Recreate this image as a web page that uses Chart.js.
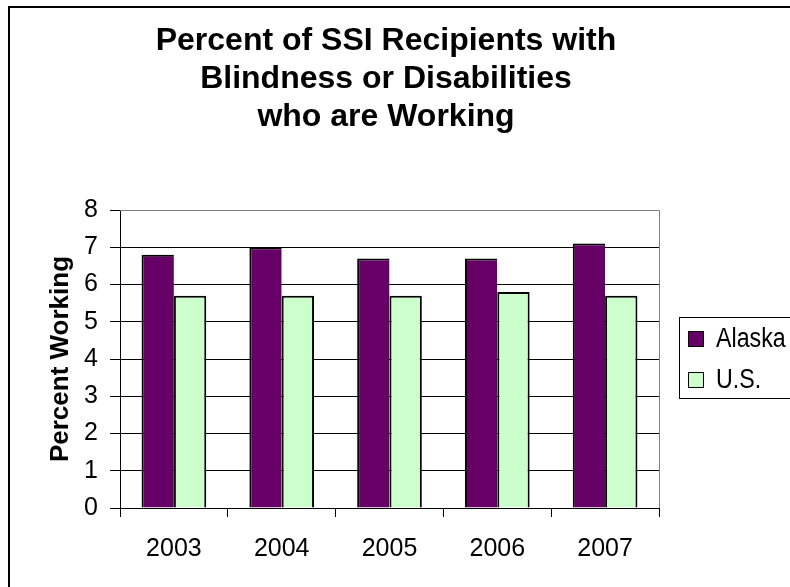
<!DOCTYPE html>
<html>
<head>
<meta charset="utf-8">
<title>Percent of SSI Recipients with Blindness or Disabilities who are Working</title>
<script src="https://cdn.jsdelivr.net/npm/chart.js@4.4.0/dist/chart.umd.min.js"></script>
<style>
    html, body { margin: 0; padding: 0; background: #fff; overflow: hidden; }
    #wrap {
        position: relative;
        width: 790px;
        height: 587px;
        overflow: hidden;
        font-family: 'Liberation Sans', Arial, sans-serif;
        color: #000;
    }
    #frame {
        position: absolute;
        left: 8px;
        top: 6px;
        width: 900px;
        height: 700px;
        border: 2px solid #000;
        box-sizing: border-box;
    }
    #chart { position: absolute; left: 0; top: 0; }
    #title {
        position: absolute;
        left: 0;
        top: 20px;
        width: 772px;
        text-align: center;
        font-weight: bold;
        font-size: 32px;
        line-height: 38px;
    }
    #legend {
        position: absolute;
        left: 679px;
        top: 317px;
        width: 200px;
        height: 82px;
        border: 1px solid #000;
        box-sizing: border-box;
    }
    .legend-item { position: absolute; left: 8px; height: 26px; }
    .legend-swatch {
        position: absolute;
        left: 0;
        width: 16px;
        height: 16px;
        border: 1px solid #000;
        box-sizing: border-box;
    }
    .legend-text {
        position: absolute;
        left: 28px;
        font-size: 27px;
        line-height: 27px;
        white-space: nowrap;
        transform: scaleX(0.86);
        transform-origin: left center;
    }
</style>
</head>
<body>
<div id="wrap">
    <div id="frame"></div>
    <canvas id="chart" width="790" height="587"></canvas>
    <div id="title"></div>
    <div id="legend"></div>
</div>
<script>
// Chart data
const titleLines = ['Percent of SSI Recipients with', 'Blindness or Disabilities', 'who are Working'];
const years = ['2003', '2004', '2005', '2006', '2007'];
const alaskaValues = [6.8, 7.0, 6.7, 6.7, 7.1];
const usValues = [5.7, 5.7, 5.7, 5.8, 5.7];
const seriesNames = ['Alaska', 'U.S.'];
const seriesColors = ['#660066', '#CCFFCC'];
const yAxisTitle = 'Percent Working';
const yMin = 0;
const yMax = 8;
const yStep = 1;

const FONT = "'Liberation Sans', Arial, sans-serif";

// Title
document.getElementById('title').innerHTML = titleLines.join('<br>');

// Legend (boxed, to the right of the plot)
const legendEl = document.getElementById('legend');
seriesNames.forEach((name, i) => {
    const item = document.createElement('div');
    item.className = 'legend-item';
    item.style.top = (13 + i * 41) + 'px';

    const swatch = document.createElement('div');
    swatch.className = 'legend-swatch';
    swatch.style.background = seriesColors[i];
    item.appendChild(swatch);

    const text = document.createElement('div');
    text.className = 'legend-text';
    text.style.top = '-6.5px';
    text.textContent = name;
    item.appendChild(text);

    legendEl.appendChild(item);
});

// Grey border on top and right of the plot area
const plotFrame = {
    id: 'plotFrame',
    afterDraw(chart) {
        const { ctx, chartArea } = chart;
        ctx.save();
        ctx.strokeStyle = '#808080';
        ctx.lineWidth = 1;
        ctx.beginPath();
        ctx.moveTo(chartArea.left, chartArea.top + 0.5);
        ctx.lineTo(chartArea.right + 0.5, chartArea.top + 0.5);
        ctx.lineTo(chartArea.right + 0.5, chartArea.bottom);
        ctx.stroke();
        ctx.restore();
    }
};

new Chart(document.getElementById('chart'), {
    type: 'bar',
    data: {
        labels: years,
        datasets: [
            {
                label: seriesNames[0],
                data: alaskaValues,
                backgroundColor: seriesColors[0],
                borderColor: '#000',
                borderWidth: { top: 2, left: 2, right: 0, bottom: 0 },
                borderSkipped: false,
                categoryPercentage: 0.6,
                barPercentage: 1.0
            },
            {
                label: seriesNames[1],
                data: usValues,
                backgroundColor: seriesColors[1],
                borderColor: '#000',
                borderWidth: { top: 2, left: 2, right: 2, bottom: 0 },
                borderSkipped: false,
                categoryPercentage: 0.6,
                barPercentage: 1.0
            }
        ]
    },
    options: {
        responsive: false,
        animation: false,
        devicePixelRatio: 1,
        layout: {
            padding: { left: 45, top: 210, right: 131, bottom: 0 }
        },
        plugins: {
            legend: { display: false },
            title: { display: false },
            tooltip: { enabled: false }
        },
        scales: {
            x: {
                grid: {
                    offset: true,
                    drawOnChartArea: false,
                    drawTicks: true,
                    tickLength: 9,
                    color: '#000'
                },
                border: { display: true, color: '#000', width: 1 },
                ticks: {
                    color: '#000',
                    font: { family: FONT, size: 25 },
                    padding: 17,
                    maxRotation: 0
                },
                afterFit(scale) {
                    scale.height = 79;
                }
            },
            y: {
                min: yMin,
                max: yMax,
                ticks: {
                    stepSize: yStep,
                    color: '#000',
                    font: { family: FONT, size: 25 },
                    padding: 12
                },
                grid: {
                    color: ctx => (ctx.tick && ctx.tick.value === yMax ? '#808080' : '#000'),
                    tickColor: '#000',
                    tickLength: 10,
                    drawTicks: true
                },
                border: { display: true, color: '#000', width: 1 },
                title: {
                    display: true,
                    text: yAxisTitle,
                    color: '#000',
                    font: { family: FONT, size: 26, weight: 'bold' },
                    padding: 0
                },
                afterFit(scale) {
                    scale.width = 75;
                }
            }
        }
    },
    plugins: [plotFrame]
});
</script>
</body>
</html>
